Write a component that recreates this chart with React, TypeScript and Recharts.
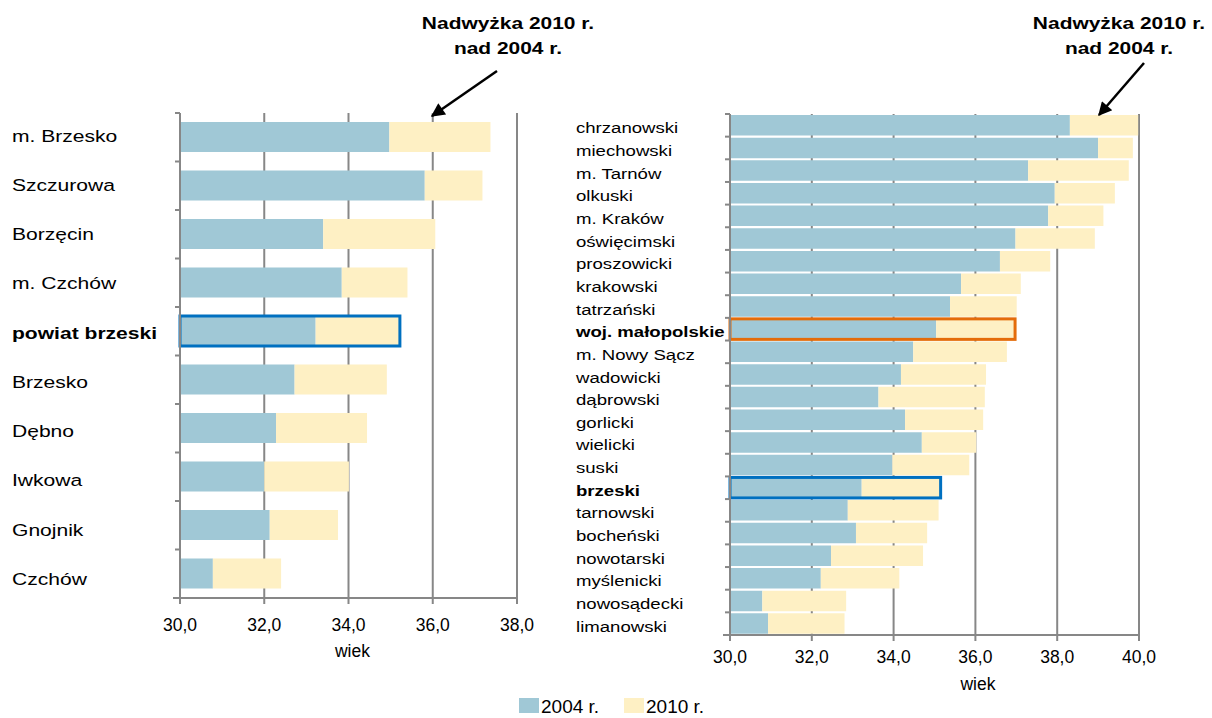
import { BarChart, Bar, XAxis, YAxis, CartesianGrid, Label } from 'recharts'

// ---- data ----
const leftNames = ['m. Brzesko', 'Szczurowa', 'Borzęcin', 'm. Czchów', 'powiat brzeski', 'Brzesko', 'Dębno', 'Iwkowa', 'Gnojnik', 'Czchów']
const left2004 = [34.97, 35.81, 33.4, 33.84, 33.22, 32.72, 32.28, 32.0, 32.13, 30.78]
const left2010 = [37.37, 37.18, 36.06, 35.4, 35.22, 34.91, 34.44, 34.01, 33.75, 32.4]
const leftTicks = [30, 32, 34, 36, 38]

const rightNames = [
  'chrzanowski', 'miechowski', 'm. Tarnów', 'olkuski', 'm. Kraków', 'oświęcimski', 'proszowicki', 'krakowski',
  'tatrzański', 'woj. małopolskie', 'm. Nowy Sącz', 'wadowicki', 'dąbrowski', 'gorlicki', 'wielicki', 'suski',
  'brzeski', 'tarnowski', 'bocheński', 'nowotarski', 'myślenicki', 'nowosądecki', 'limanowski',
]
const right2004 = [38.31, 39.0, 37.29, 37.94, 37.78, 36.98, 36.6, 35.65, 35.38, 35.04, 34.48, 34.18, 33.63, 34.28, 34.69, 33.97, 33.22, 32.88, 33.08, 32.47, 32.22, 30.79, 30.93]
const right2010 = [39.98, 39.85, 39.75, 39.41, 39.13, 38.92, 37.83, 37.11, 37.01, 36.97, 36.77, 36.26, 36.23, 36.19, 36.02, 35.85, 35.15, 35.1, 34.82, 34.72, 34.14, 32.84, 32.8]
const rightTicks = [30, 32, 34, 36, 38, 40]

const seriesNames = ['2004 r.', '2010 r.']
const annotation = ['Nadwyżka 2010 r.', 'nad 2004 r.']
const axisTitle = 'wiek'

// ---- styles ----
const AXIS_MIN = 30
const BLUE = '#A0C8D6'
const YELLOW = '#FEF0C4'
const GRID = '#878787'
const FONT = '"Liberation Sans", Arial, sans-serif'
const STRETCH = 1.24

const leftHighlight: Record<string, string> = { 'powiat brzeski': '#0070C0' }
const rightHighlight: Record<string, string> = { 'woj. małopolskie': '#E46C0A', brzeski: '#0070C0' }
const boldNames = ['powiat brzeski', 'woj. małopolskie', 'brzeski']

const leftData = leftNames.map((name, i) => ({ name, y2004: left2004[i], y2010: left2010[i] }))
const rightData = rightNames.map((name, i) => ({ name, y2004: right2004[i], y2010: right2010[i] }))

const fmt = (v: number) => v.toFixed(1).replace('.', ',')

function CategoryTick(props: any) {
  const { y, payload, index, labelX, axisX, halfBand, count, fontSize, baseDy, drift } = props
  const bold = boldNames.includes(payload.value)
  return (
    <g>
      <line x1={axisX - 5} x2={axisX} y1={y - halfBand} y2={y - halfBand} stroke={GRID} strokeWidth={2} />
      {index === count - 1 && (
        <line x1={axisX - 7} x2={axisX} y1={y + halfBand} y2={y + halfBand} stroke={GRID} strokeWidth={2} />
      )}
      <text
        transform={`translate(${labelX},${y + baseDy + index * drift}) scale(${STRETCH},1)`}
        fontSize={fontSize}
        fontFamily={FONT}
        fontWeight={bold ? 'bold' : 'normal'}
        fill="#000"
      >
        {payload.value}
      </text>
    </g>
  )
}

function Outline(props: any) {
  const color = props.colors[props.payload?.name]
  if (!color) return <g />
  return <rect x={props.x} y={props.y} width={props.width} height={props.height} fill="none" stroke={color} strokeWidth={3} />
}

interface PanelProps {
  data: { name: string; y2004: number; y2010: number }[]
  ticks: number[]
  width: number
  height: number
  margin: { top: number; right: number; bottom: number; left: number }
  barSize: number
  highlight: Record<string, string>
  labelX: number
  labelSize: number
  baseDy: number
  drift: number
  tickMargin: number
  titleOffset: number
  titleDx: number
}

function Panel(p: PanelProps) {
  const yAxisWidth = 170
  const axisX = p.margin.left + yAxisWidth
  const plotHeight = p.height - p.margin.top - p.margin.bottom - 60
  const halfBand = plotHeight / p.data.length / 2
  return (
    <BarChart
      width={p.width}
      height={p.height}
      data={p.data}
      layout="vertical"
      margin={p.margin}
      barSize={p.barSize}
      barGap={-p.barSize}
    >
      <CartesianGrid horizontal={false} stroke={GRID} strokeWidth={2} />
      <XAxis
        type="number"
        domain={[p.ticks[0], p.ticks[p.ticks.length - 1]]}
        ticks={p.ticks}
        interval={0}
        tickFormatter={fmt}
        height={60}
        axisLine={{ stroke: GRID, strokeWidth: 2 }}
        tickLine={{ stroke: GRID, strokeWidth: 2 }}
        tickSize={6}
        tickMargin={p.tickMargin}
        tick={{ fill: '#000', fontSize: 17.5, fontFamily: FONT }}
      >
        <Label
          value={axisTitle}
          position="insideBottom"
          offset={p.titleOffset}
          dx={p.titleDx}
          fill="#000"
          fontSize={17.5}
          fontFamily={FONT}
        />
      </XAxis>
      <YAxis
        type="category"
        dataKey="name"
        width={yAxisWidth}
        interval={0}
        axisLine={{ stroke: GRID, strokeWidth: 2 }}
        tickLine={false}
        tick={(t: any) => (
          <CategoryTick
            {...t}
            labelX={p.labelX}
            axisX={axisX}
            halfBand={halfBand}
            count={p.data.length}
            fontSize={p.labelSize}
            baseDy={p.baseDy}
            drift={p.drift}
          />
        )}
      />
      <Bar name={seriesNames[0]} dataKey={(d: any) => [AXIS_MIN, d.y2004]} fill={BLUE} isAnimationActive={false} />
      <Bar name={seriesNames[1]} dataKey={(d: any) => [d.y2004, d.y2010]} fill={YELLOW} isAnimationActive={false} />
      <Bar
        dataKey={(d: any) => [AXIS_MIN, d.y2010]}
        isAnimationActive={false}
        shape={(s: any) => <Outline {...s} colors={p.highlight} />}
      />
    </BarChart>
  )
}

function Callout({ cx, tail, tip }: { cx: number; tail: [number, number]; tip: [number, number] }) {
  return (
    <g>
      {annotation.map((line, i) => (
        <text
          key={line}
          transform={`translate(${cx},${29 + i * 24.5}) scale(1.27,1)`}
          textAnchor="middle"
          fontSize={16.5}
          fontWeight="bold"
          fontFamily={FONT}
          fill="#000"
        >
          {line}
        </text>
      ))}
      <line x1={tail[0]} y1={tail[1]} x2={tip[0]} y2={tip[1]} stroke="#000" strokeWidth={2.5} markerEnd="url(#arrowHead)" />
    </g>
  )
}

export default function App() {
  return (
    <div style={{ position: 'absolute', left: 0, top: 0, width: 1212, height: 718, background: '#fff', fontFamily: FONT }}>
      <div style={{ position: 'absolute', left: 0, top: 0 }}>
        <Panel
          data={leftData}
          ticks={leftTicks}
          width={560}
          height={680}
          margin={{ top: 113, right: 43, bottom: 22, left: 10 }}
          barSize={30}
          highlight={leftHighlight}
          labelX={12}
          labelSize={17}
          baseDy={4.5}
          drift={0.72}
          tickMargin={14.6}
          titleOffset={1}
          titleDx={4}
        />
      </div>
      <div style={{ position: 'absolute', left: 560, top: 0 }}>
        <Panel
          data={rightData}
          ticks={rightTicks}
          width={652}
          height={718}
          margin={{ top: 114, right: 73, bottom: 23, left: 0 }}
          barSize={20.5}
          highlight={rightHighlight}
          labelX={16}
          labelSize={15}
          baseDy={8}
          drift={0}
          tickMargin={9.3}
          titleOffset={5}
          titleDx={43.5}
        />
      </div>
      <svg width={1212} height={718} style={{ position: 'absolute', left: 0, top: 0, pointerEvents: 'none' }}>
        <defs>
          <marker id="arrowHead" viewBox="0 0 10 10" refX="9" refY="5" markerWidth="6.5" markerHeight="5.5" orient="auto">
            <path d="M0,0 L10,5 L0,10 z" fill="#000" />
          </marker>
        </defs>
        <Callout cx={508} tail={[497, 71]} tip={[432, 116]} />
        <Callout cx={1119} tail={[1144, 63]} tip={[1099, 115]} />
        <rect x={519} y={698} width={20} height={15} fill={BLUE} />
        <text x={541} y={713} fontSize={19} fontFamily={FONT} fill="#000">{seriesNames[0]}</text>
        <rect x={624} y={698} width={20} height={15} fill={YELLOW} />
        <text x={646} y={713} fontSize={19} fontFamily={FONT} fill="#000">{seriesNames[1]}</text>
      </svg>
    </div>
  )
}
